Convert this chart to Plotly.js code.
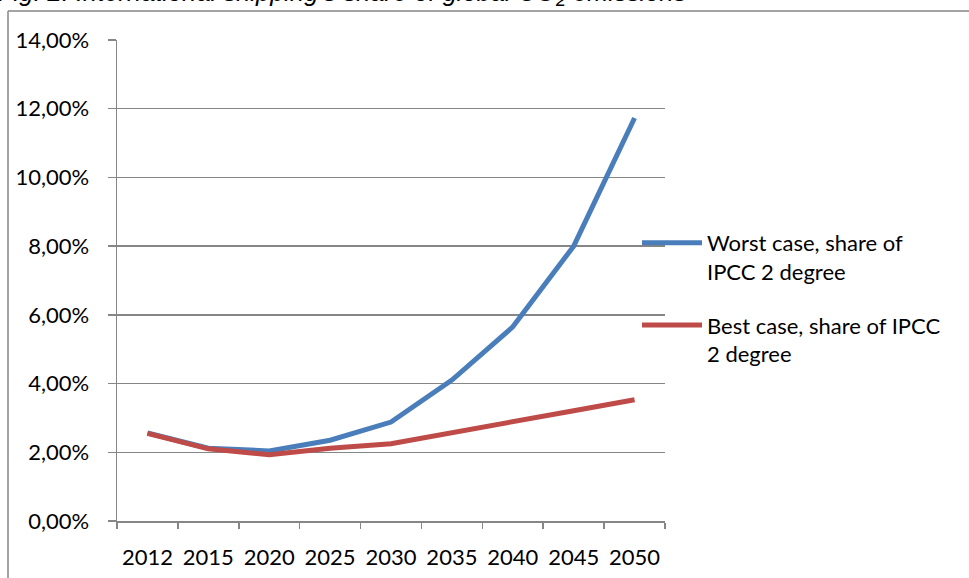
<!DOCTYPE html>
<html>
<head>
<meta charset="utf-8">
<script src="https://cdn.plot.ly/plotly-3.0.1.min.js"></script>
<style>html,body{margin:0;padding:0;background:#fff;}#chart{width:969px;height:578px;}</style>
</head>
<body>
<div id="chart"></div>
<script>
const years = ['2012','2015','2020','2025','2030','2035','2040','2045','2050'];
const worstCase = [0.0256, 0.0212, 0.0204, 0.0235, 0.0288, 0.0410, 0.0565, 0.0800, 0.1173];
const bestCase  = [0.0255, 0.0210, 0.0193, 0.0212, 0.0225, 0.0258, 0.0290, 0.0321, 0.0353];
const seriesNames = ['Worst case, share of<br>IPCC 2 degree', 'Best case, share of IPCC<br>2 degree'];
const titleText = 'Fig. 2: International shipping\u2019s share of global CO<sub>2</sub> emissions';

const W = 969, H = 578;
const L = 117, R = 665, T = 40, B = 521;
const px = v => (v - L) / (R - L);
const py = v => (B - v) / (B - T);
const FONT = 'Lato, "Open Sans", sans-serif';

const traces = [
  {x: years, y: worstCase, name: seriesNames[0], legendgroup: 'w', type: 'scatter', mode: 'lines',
   line: {color: '#4A7EBB', width: 5}},
  {x: years, y: bestCase, name: seriesNames[1], legendgroup: 'b', type: 'scatter', mode: 'lines',
   line: {color: '#BE4B48', width: 5}}
];

const layout = {
  width: W, height: H,
  margin: {l: L, r: W - R, t: T, b: H - B},
  paper_bgcolor: '#ffffff', plot_bgcolor: '#ffffff',
  font: {family: FONT, size: 22, color: '#000'},
  separators: ',.',
  showlegend: true,
  legend: {x: px(637), y: py(222), xanchor: 'left', yanchor: 'top',
           font: {family: FONT, size: 22, color: '#000'}, valign: 'top',
           tracegroupgap: 22, itemwidth: 60, bgcolor: 'rgba(0,0,0,0)'},
  xaxis: {type: 'category', range: [-0.5, 8.5], showgrid: false, zeroline: false,
          showline: true, linecolor: '#868686', linewidth: 1.5,
          ticks: 'outside', tickson: 'boundaries', ticklen: 6, tickcolor: '#868686', tickwidth: 1.5,
          ticklabelstandoff: 16, tickfont: {family: FONT, size: 22, color: '#000'}},
  yaxis: {range: [0, 0.14], dtick: 0.02, tickformat: '.2%', showgrid: true, gridcolor: '#868686', gridwidth: 1.5,
          zeroline: false, showline: true, linecolor: '#868686', linewidth: 1.5,
          ticks: 'outside', ticklen: 8, tickcolor: '#868686', tickwidth: 1.5,
          ticklabelstandoff: 14, tickfont: {family: FONT, size: 22, color: '#000'}},
  shapes: [
    {type: 'line', xref: 'paper', yref: 'paper', x0: px(8), x1: px(8), y0: py(11), y1: py(590),
     line: {color: '#868686', width: 1.5}},
    {type: 'line', xref: 'paper', yref: 'paper', x0: px(8), x1: px(980), y0: py(11), y1: py(11),
     line: {color: '#868686', width: 1.5}}
  ],
  annotations: [
    {text: titleText, xref: 'paper', yref: 'paper', x: px(-4), y: py(12), xanchor: 'left', yanchor: 'bottom',
     showarrow: false, font: {family: '"Liberation Sans", Arial, sans-serif', size: 25.5, color: '#000', style: 'italic'}}
  ]
};

Plotly.newPlot('chart', traces, layout, {displayModeBar: false, staticPlot: true});
</script>
</body>
</html>
